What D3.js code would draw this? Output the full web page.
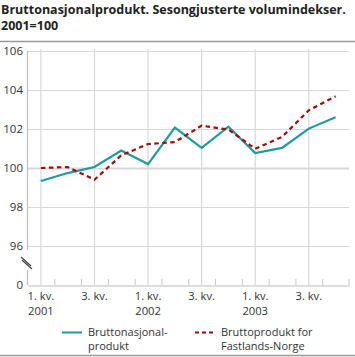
<!DOCTYPE html>
<html><head><meta charset="utf-8">
<script src="https://cdn.jsdelivr.net/npm/d3@7"></script>
<style>body{margin:0;background:#fff}svg{display:block}text{font-family:"Open Sans","DejaVu Sans",sans-serif}</style>
</head><body><svg id="c" width="355" height="357"></svg>
<script>
const quarters = ["2001Q1","2001Q2","2001Q3","2001Q4","2002Q1","2002Q2","2002Q3","2002Q4","2003Q1","2003Q2","2003Q3","2003Q4"];
const tickLabels = ["1. kv.","","3. kv.","","1. kv.","","3. kv.","","1. kv.","","3. kv.",""];
const yearLabels = ["2001","","","","2002","","","","2003","","",""];
const bnp = [99.33,99.74,100.05,100.9,100.2,102.07,101.03,102.12,100.77,101.03,102.02,102.6];
const fastland = [100.0,100.05,99.4,100.65,101.23,101.33,102.17,101.97,100.99,101.59,102.96,103.68];
const yTicks = [96,98,100,102,104,106];
const seriesNames = [["Bruttonasjonal-","produkt"],["Bruttoprodukt for","Fastlands-Norge"]];
const colors = ["#1f9b9b","#9b0f0f"];

const svg = d3.select("#c");
const L=27.5, R=349, T=51, B=285;
const x = d3.scaleBand().domain(quarters).range([L,R]);
const y = d3.scaleLinear().domain([94,106]).range([B,T]);
const cx = q => x(q)+x.bandwidth()/2;

// title
svg.append("text").attr("x",1).attr("y",14).attr("font-size",12.5).attr("font-weight","bold").attr("fill","#222")
  .text("Bruttonasjonalprodukt. Sesongjusterte volumindekser.");
svg.append("text").attr("x",1).attr("y",30).attr("font-size",12.5).attr("font-weight","bold").attr("fill","#222").text("2001=100");
svg.append("line").attr("x1",0).attr("x2",355).attr("y1",41.5).attr("y2",41.5).attr("stroke","#9a9a9a").attr("stroke-width",1.5);
svg.append("line").attr("x1",0).attr("x2",355).attr("y1",355.5).attr("y2",355.5).attr("stroke","#9a9a9a").attr("stroke-width",1.5);

// horizontal grid
svg.append("g").selectAll("line").data(yTicks).join("line")
  .attr("x1",L).attr("x2",R).attr("y1",d=>Math.round(y(d))+0.5).attr("y2",d=>Math.round(y(d))+0.5)
  .attr("stroke","#d8d8d8").attr("stroke-width",d=>d===100?2:1.2);
// vertical grid at Q1 and Q3
svg.append("g").selectAll("line").data(quarters.filter((q,i)=>i%2===0)).join("line")
  .attr("x1",d=>cx(d)).attr("x2",d=>cx(d)).attr("y1",T-2).attr("y2",B)
  .attr("stroke","#d8d8d8").attr("stroke-width",1.2);

// x axis
const xAxis = d3.axisBottom(x).tickSize(0).tickFormat(()=>"");
const gx = svg.append("g").attr("transform",`translate(0,${B+0.5})`).call(xAxis);
gx.select(".domain").attr("stroke","#bdbdbd").attr("stroke-width",1.2);
svg.append("g").selectAll("line").data(quarters.slice(1)).join("line")
  .attr("x1",d=>x(d)+0.5).attr("x2",d=>x(d)+0.5).attr("y1",B-6).attr("y2",B)
  .attr("stroke","#c8c8c8").attr("stroke-width",1);
svg.append("line").attr("x1",R).attr("x2",R).attr("y1",B-6).attr("y2",B).attr("stroke","#c8c8c8");
const xl = svg.append("g").attr("font-size",11.2).attr("fill","#333").attr("text-anchor","middle");
quarters.forEach((q,i)=>{
  if(tickLabels[i]) xl.append("text").attr("x",cx(q)).attr("y",300).text(tickLabels[i]);
  if(yearLabels[i]) xl.append("text").attr("x",cx(q)).attr("y",314.5).text(yearLabels[i]);
});

// y axis with break
const yl = svg.append("g").attr("font-size",11.5).attr("fill","#333").attr("text-anchor","end");
yTicks.forEach(t=>yl.append("text").attr("x",23).attr("y",y(t)+4.3).text(t));
yl.append("text").attr("x",23).attr("y",y(94)+4.3).text("0");
svg.append("line").attr("x1",L).attr("x2",L).attr("y1",T).attr("y2",250).attr("stroke","#bdbdbd").attr("stroke-width",1.2);
svg.append("line").attr("x1",L).attr("x2",L).attr("y1",270).attr("y2",B).attr("stroke","#bdbdbd").attr("stroke-width",1.2);
[0,3].forEach(o=>svg.append("line").attr("x1",21+o*0.3).attr("y1",257+o).attr("x2",31+o*0.3).attr("y2",266+o)
  .attr("stroke","#444").attr("stroke-width",1.2));

// lines
const line = d3.line().x((d,i)=>cx(quarters[i])).y(d=>y(d));
svg.append("path").datum(bnp).attr("d",line).attr("fill","none").attr("stroke",colors[0]).attr("stroke-width",2.2);
svg.append("path").datum(fastland).attr("d",line).attr("fill","none").attr("stroke",colors[1]).attr("stroke-width",2.2).attr("stroke-dasharray","4.5,3.5");

// legend
const lg = svg.append("g").attr("font-size",11).attr("fill","#333");
const lx=[62,195];
seriesNames.forEach((n,i)=>{
  lg.append("line").attr("x1",lx[i]).attr("x2",lx[i]+20).attr("y1",332.5).attr("y2",332.5).attr("stroke",colors[i]).attr("stroke-width",2)
    .attr("stroke-dasharray",i?"4,3":null);
  lg.append("text").attr("x",lx[i]+26).attr("y",335.5).text(n[0]);
  lg.append("text").attr("x",lx[i]+26).attr("y",349.5).text(n[1]);
});
</script></body></html>
